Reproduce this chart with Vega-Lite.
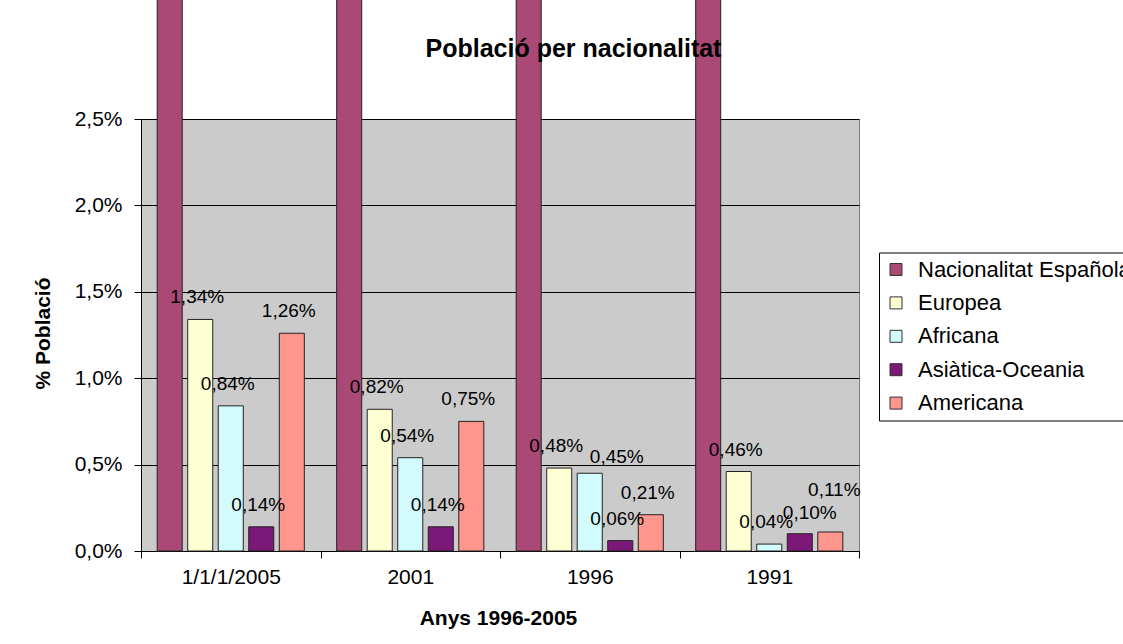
{
  "$schema": "https://vega.github.io/schema/vega-lite/v6.json",
  "width": 718,
  "height": 432,
  "autosize": {"type": "none"},
  "padding": {"left": 141, "top": 119, "right": 264, "bottom": 93},
  "background": "#FFFFFF",
  "config": {
    "locale": {"number": {"decimal": ",", "thousands": ".", "grouping": [3], "currency": ["", " €"]}},
    "font": "Liberation Sans",
    "view": {"fill": "#CBCBCB", "stroke": "#808080", "strokeWidth": 1}
  },
  "data": {
    "values": [
      {"any": "1/1/1/2005", "nac": "Nacionalitat Española", "pct": 0.9642},
      {"any": "1/1/1/2005", "nac": "Europea", "pct": 0.0134},
      {"any": "1/1/1/2005", "nac": "Africana", "pct": 0.0084},
      {"any": "1/1/1/2005", "nac": "Asiàtica-Oceania", "pct": 0.0014},
      {"any": "1/1/1/2005", "nac": "Americana", "pct": 0.0126},
      {"any": "2001", "nac": "Nacionalitat Española", "pct": 0.9775},
      {"any": "2001", "nac": "Europea", "pct": 0.0082},
      {"any": "2001", "nac": "Africana", "pct": 0.0054},
      {"any": "2001", "nac": "Asiàtica-Oceania", "pct": 0.0014},
      {"any": "2001", "nac": "Americana", "pct": 0.0075},
      {"any": "1996", "nac": "Nacionalitat Española", "pct": 0.988},
      {"any": "1996", "nac": "Europea", "pct": 0.0048},
      {"any": "1996", "nac": "Africana", "pct": 0.0045},
      {"any": "1996", "nac": "Asiàtica-Oceania", "pct": 0.0006},
      {"any": "1996", "nac": "Americana", "pct": 0.0021},
      {"any": "1991", "nac": "Nacionalitat Española", "pct": 0.9929},
      {"any": "1991", "nac": "Europea", "pct": 0.0046},
      {"any": "1991", "nac": "Africana", "pct": 0.0004},
      {"any": "1991", "nac": "Asiàtica-Oceania", "pct": 0.0010},
      {"any": "1991", "nac": "Americana", "pct": 0.0011}
    ]
  },
  "encoding": {
    "x": {
      "field": "any",
      "type": "nominal",
      "sort": ["1/1/1/2005", "2001", "1996", "1991"],
      "scale": {"paddingInner": 0, "paddingOuter": 0},
      "axis": {
        "orient": "bottom",
        "labelAngle": 0,
        "labelFontSize": 21,
        "labelColor": "#000000",
        "labelPadding": 8,
        "tickBand": "extent",
        "tickSize": 7,
        "tickColor": "#000000",
        "domainColor": "#000000",
        "grid": false,
        "title": "Anys 1996-2005",
        "titleFontSize": 21,
        "titleFontWeight": "bold",
        "titleColor": "#000000",
        "titleX": 357,
        "titleY": 67,
        "titleBaseline": "middle",
        "titleAlign": "center"
      }
    },
    "xOffset": {
      "field": "nac",
      "type": "nominal",
      "sort": ["Nacionalitat Española", "Europea", "Africana", "Asiàtica-Oceania", "Americana"],
      "scale": {"paddingInner": 0.18, "paddingOuter": 0.53}
    },
    "y": {
      "field": "pct",
      "type": "quantitative",
      "scale": {"domain": [0, 0.025], "nice": false, "zero": true},
      "axis": {
        "values": [0, 0.005, 0.01, 0.015, 0.02, 0.025],
        "format": ".1%",
        "labelFontSize": 21,
        "labelColor": "#000000",
        "labelPadding": 12,
        "tickSize": 7,
        "tickColor": "#000000",
        "domainColor": "#000000",
        "grid": true,
        "gridColor": "#000000",
        "gridWidth": 1,
        "title": "% Població",
        "titleFontSize": 21,
        "titleFontWeight": "bold",
        "titleColor": "#000000",
        "titleX": -98,
        "titleY": 214,
        "titleAngle": -90,
        "titleBaseline": "middle",
        "titleAlign": "center"
      }
    }
  },
  "layer": [
    {
      "mark": {"type": "bar", "stroke": "#222222", "strokeWidth": 1},
      "encoding": {
        "color": {
          "field": "nac",
          "type": "nominal",
          "scale": {
            "domain": ["Nacionalitat Española", "Europea", "Africana", "Asiàtica-Oceania", "Americana"],
            "range": ["#AA4876", "#FFFFD4", "#D2FBFE", "#7B1878", "#FF968E"]
          },
          "legend": {
            "orient": "none",
            "legendX": 738,
            "legendY": 133.5,
            "title": null,
            "strokeColor": "#000000",
            "fillColor": "#FFFFFF",
            "padding": 6,
            "labelFontSize": 22,
            "labelColor": "#000000",
            "labelLimit": 0,
            "labelOffset": 11,
            "rowPadding": 11.4,
            "symbolType": "square",
            "symbolSize": 144,
            "symbolStrokeColor": "#333333",
            "symbolStrokeWidth": 1
          }
        }
      }
    },
    {
      "transform": [{"filter": "datum.nac != 'Nacionalitat Española' && !(datum.any == '1996' && datum.nac == 'Africana') && !(datum.any == '1991' && (datum.nac == 'Asiàtica-Oceania' || datum.nac == 'Americana'))"}],
      "mark": {"type": "text", "dy": -22, "dx": -3, "fontSize": 19, "baseline": "middle", "color": "#000000"},
      "encoding": {
        "text": {"field": "pct", "type": "quantitative", "format": ".2%"},
        "x": {
          "field": "any",
          "type": "nominal",
          "sort": ["1/1/1/2005", "2001", "1996", "1991"],
          "axis": {
            "orient": "top",
            "labels": false,
            "ticks": false,
            "domain": false,
            "grid": false,
            "zindex": 2,
            "title": "Població per nacionalitat",
            "titleFontSize": 25,
            "titleFontWeight": "bold",
            "titleColor": "#000000",
            "titleX": 432,
            "titleY": -71,
            "titleBaseline": "middle",
            "titleAlign": "center"
          }
        }
      }
    },
    {
      "transform": [{"filter": "datum.any == '1996' && datum.nac == 'Africana'"}],
      "mark": {"type": "text", "dy": -16, "dx": 27, "fontSize": 19, "baseline": "middle", "color": "#000000"},
      "encoding": {
        "text": {"field": "pct", "type": "quantitative", "format": ".2%"},
        "x": {"field": "any", "type": "nominal", "sort": ["1/1/1/2005", "2001", "1996", "1991"], "axis": null}
      }
    },
    {
      "transform": [{"filter": "datum.any == '1991' && datum.nac == 'Asiàtica-Oceania'"}],
      "mark": {"type": "text", "dy": -21, "dx": 10, "fontSize": 19, "baseline": "middle", "color": "#000000"},
      "encoding": {
        "text": {"field": "pct", "type": "quantitative", "format": ".2%"},
        "x": {"field": "any", "type": "nominal", "sort": ["1/1/1/2005", "2001", "1996", "1991"], "axis": null}
      }
    },
    {
      "transform": [{"filter": "datum.any == '1991' && datum.nac == 'Americana'"}],
      "mark": {"type": "text", "dy": -42, "dx": 4, "fontSize": 19, "baseline": "middle", "color": "#000000"},
      "encoding": {
        "text": {"field": "pct", "type": "quantitative", "format": ".2%"},
        "x": {"field": "any", "type": "nominal", "sort": ["1/1/1/2005", "2001", "1996", "1991"], "axis": null}
      }
    }
  ],
  "resolve": {"axis": {"x": "independent"}}
}
